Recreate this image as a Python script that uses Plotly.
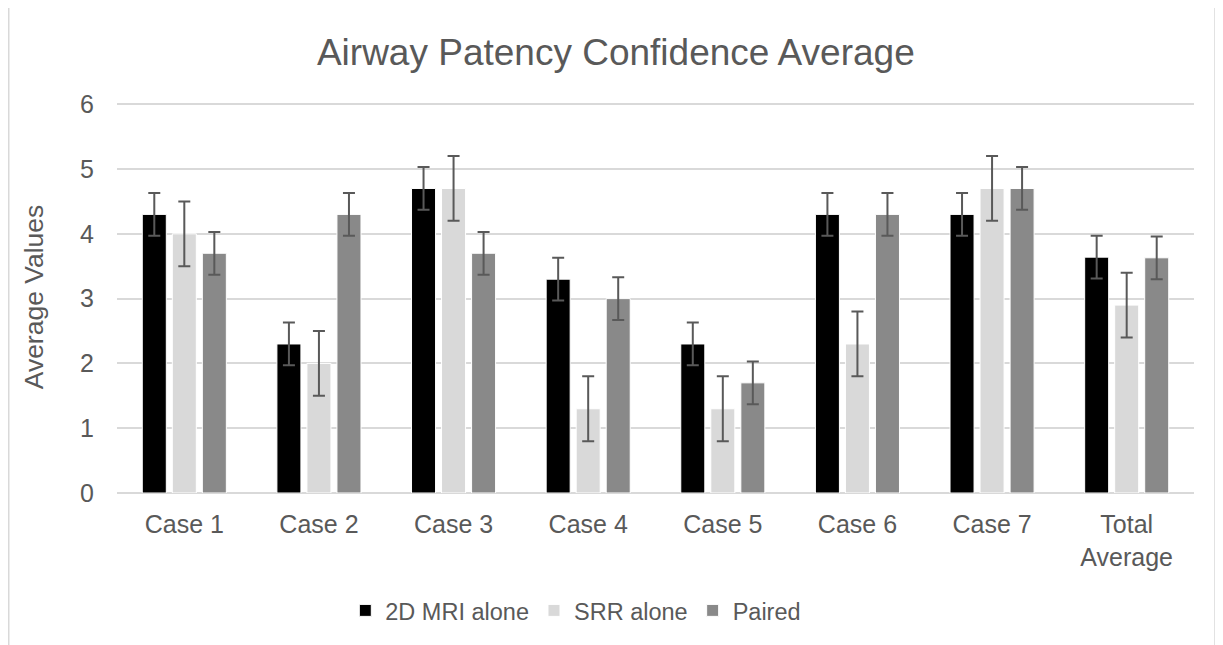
import plotly.graph_objects as go

categories = ["Case 1", "Case 2", "Case 3", "Case 4", "Case 5", "Case 6", "Case 7", "Total<br>Average"]
mri_alone = [4.3, 2.3, 4.7, 3.3, 2.3, 4.3, 4.3, 3.64]
srr_alone = [4.0, 2.0, 4.7, 1.3, 1.3, 2.3, 4.7, 2.9]
paired = [3.7, 4.3, 3.7, 3.0, 1.7, 4.3, 4.7, 3.63]
mri_err = [0.33] * 8
srr_err = [0.5] * 8
paired_err = [0.33] * 8

series = [
    ("2D MRI alone", mri_alone, mri_err, "#000000"),
    ("SRR alone", srr_alone, srr_err, "#d9d9d9"),
    ("Paired", paired, paired_err, "#898989"),
]

fig = go.Figure()
for name, vals, err, col in series:
    fig.add_trace(go.Bar(
        x=categories, y=vals, name=name,
        marker=dict(color=col, line=dict(color="#ffffff", width=1)),
        error_y=dict(type="data", array=err, visible=True, color="#595959", thickness=2, width=6),
    ))

font_family = "Liberation Sans, Arial, sans-serif"
fig.update_layout(
    width=1223, height=645,
    margin=dict(l=109, r=37, t=93, b=160),
    paper_bgcolor="#ffffff", plot_bgcolor="#ffffff",
    barmode="group", bargap=0.331, bargroupgap=0.2,
    font=dict(family=font_family, color="#595959", size=25),
    title=dict(text="Airway Patency Confidence Average", x=0.497, xanchor="center",
               y=0.932, yanchor="middle", font=dict(size=37, color="#595959")),
    xaxis=dict(showgrid=False, showline=False, zeroline=False, ticks="",
               tickfont=dict(size=25), ticklabelstandoff=14),
    yaxis=dict(range=[0, 6.05], tickvals=[0, 1, 2, 3, 4, 5, 6], showgrid=True,
               gridcolor="#d9d9d9", gridwidth=1.5,
               zeroline=True, zerolinecolor="#d9d9d9", zerolinewidth=1.5, showline=False,
               ticks="", tickfont=dict(size=25), ticklabelstandoff=22,
               title=dict(text="Average Values", font=dict(size=26.5), standoff=28)),
    legend=dict(orientation="h", x=0.426, xanchor="center", y=-0.30, yanchor="middle",
                font=dict(size=23.5), traceorder="normal", itemwidth=30),
    shapes=[dict(type="rect", xref="paper", yref="paper",
                 x0=-0.1005, x1=1.0195, y0=-0.45, y1=1.2449,
                 line=dict(color="#d9d9d9", width=1.5), fillcolor="rgba(0,0,0,0)", layer="below")],
)

fig.write_html("out.html")
